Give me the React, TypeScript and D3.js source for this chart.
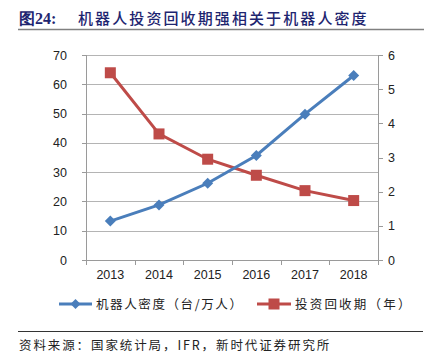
import React from "react";
import * as d3 from "d3";

const years = ["2013", "2014", "2015", "2016", "2017", "2018"];
const density = [13.3, 18.8, 26.2, 35.7, 49.8, 63.0];
const payback = [5.48, 3.69, 2.95, 2.48, 2.03, 1.74];
const leftTicks = [0, 10, 20, 30, 40, 50, 60, 70];
const rightTicks = [0, 1, 2, 3, 4, 5, 6];
const title = "机器人投资回收期强相关于机器人密度";
const titleNum = "图24:";
const seriesNames = ["机器人密度（台/万人）", "投资回收期（年）"];
const source = "资料来源：国家统计局，IFR，新时代证券研究所";

const W = 426, H = 361;
const L = 86, R = 378, T = 55, B = 260;
const BLUE = "#4A7EBB";
const RED = "#BE4B48";
const AX = "#9a9a9a";
const CJK = "'Noto Sans CJK SC', sans-serif";

export default function App() {
  const x = d3.scaleBand<string>().domain(years).range([L, R]);
  const yL = d3.scaleLinear().domain([0, 70]).range([B, T]);
  const yR = d3.scaleLinear().domain([0, 6]).range([B, T]);
  const cx = (d: string) => (x(d) as number) + x.bandwidth() / 2;
  const lineL = d3.line<number>().x((_, i) => cx(years[i])).y((d) => yL(d));
  const lineR = d3.line<number>().x((_, i) => cx(years[i])).y((d) => yR(d));
  const diamond = (px: number, py: number, s: number) =>
    `M${px},${py - s}L${px + s},${py}L${px},${py + s}L${px - s},${py}Z`;

  return (
    <svg width={W} height={H} style={{ position: "absolute", left: 0, top: 0, background: "#fff" }}>
      {/* title */}
      <text x={19} y={24} fontFamily="'Liberation Serif', serif" fontWeight="bold" fontSize={16} fill="#1E2570">{titleNum}</text>
      <text x={78} y={24} fontFamily={CJK} fontWeight={500} fontSize={15} letterSpacing={2.1} fill="#1E2570">{title}</text>
      <line x1={18} x2={424} y1={29.5} y2={29.5} stroke="#808080" strokeWidth={1.5} />

      {/* gridlines */}
      {leftTicks.map((t) => (
        <line key={"g" + t} x1={L} x2={R} y1={Math.round(yL(t)) + 0.5} y2={Math.round(yL(t)) + 0.5} stroke="#b4b4b4" strokeWidth={1} />
      ))}
      {/* left axis */}
      <line x1={L + 0.5} x2={L + 0.5} y1={T} y2={B + 1} stroke={AX} />
      {leftTicks.map((t) => (
        <g key={"l" + t}>
          <line x1={L - 4} x2={L} y1={Math.round(yL(t)) + 0.5} y2={Math.round(yL(t)) + 0.5} stroke={AX} />
          <text x={67} y={yL(t) + 4.5} textAnchor="end" fontFamily="'Liberation Sans', Arial, sans-serif" fontSize={12.5} fill="#222">{t}</text>
        </g>
      ))}
      {/* right axis */}
      <line x1={R + 0.5} x2={R + 0.5} y1={T} y2={B + 1} stroke={AX} />
      {rightTicks.map((t) => (
        <g key={"r" + t}>
          <line x1={R} x2={R + 5} y1={Math.round(yR(t)) + 0.5} y2={Math.round(yR(t)) + 0.5} stroke={AX} />
          <text x={388} y={yR(t) + 4.5} textAnchor="start" fontFamily="'Liberation Sans', Arial, sans-serif" fontSize={12.5} fill="#222">{t}</text>
        </g>
      ))}
      {/* x axis */}
      <line x1={L - 4} x2={R + 5} y1={B + 0.5} y2={B + 0.5} stroke={AX} />
      {years.map((y, i) => (
        <g key={"x" + y}>
          <line x1={Math.round(x(y) as number) + 0.5} x2={Math.round(x(y) as number) + 0.5} y1={B} y2={B + 5} stroke={AX} />
          {i === years.length - 1 && (
            <line x1={R + 0.5} x2={R + 0.5} y1={B} y2={B + 5} stroke={AX} />
          )}
          <text x={cx(y)} y={279} textAnchor="middle" fontFamily="'Liberation Sans', Arial, sans-serif" fontSize={12.5} fill="#222">{y}</text>
        </g>
      ))}

      {/* series */}
      <path d={lineR(payback) as string} fill="none" stroke={RED} strokeWidth={3} />
      <path d={lineL(density) as string} fill="none" stroke={BLUE} strokeWidth={3} />
      {payback.map((v, i) => (
        <rect key={"s" + i} x={cx(years[i]) - 5.5} y={yR(v) - 5.5} width={11} height={11} fill={RED} />
      ))}
      {density.map((v, i) => (
        <path key={"d" + i} d={diamond(cx(years[i]), yL(v), 5.5)} fill={BLUE} />
      ))}

      {/* legend */}
      <line x1={59} x2={92} y1={304} y2={304} stroke={BLUE} strokeWidth={3} />
      <path d={diamond(75.5, 304, 5)} fill={BLUE} />
      <text x={96} y={308.5} fontFamily={CJK} fontSize={12.5} letterSpacing={1.6} fill="#222">{seriesNames[0]}</text>
      <line x1={257} x2={291} y1={304} y2={304} stroke={RED} strokeWidth={3} />
      <rect x={268.5} y={298.5} width={11} height={11} fill={RED} />
      <text x={295} y={308.5} fontFamily={CJK} fontSize={12.5} letterSpacing={2.2} fill="#222">{seriesNames[1]}</text>

      {/* footer */}
      <line x1={18} x2={423} y1={331.5} y2={331.5} stroke="#333" strokeWidth={1} />
      <text x={19} y={350} fontFamily={CJK} fontSize={12.5} letterSpacing={1.9} fill="#222">{source}</text>
    </svg>
  );
}
